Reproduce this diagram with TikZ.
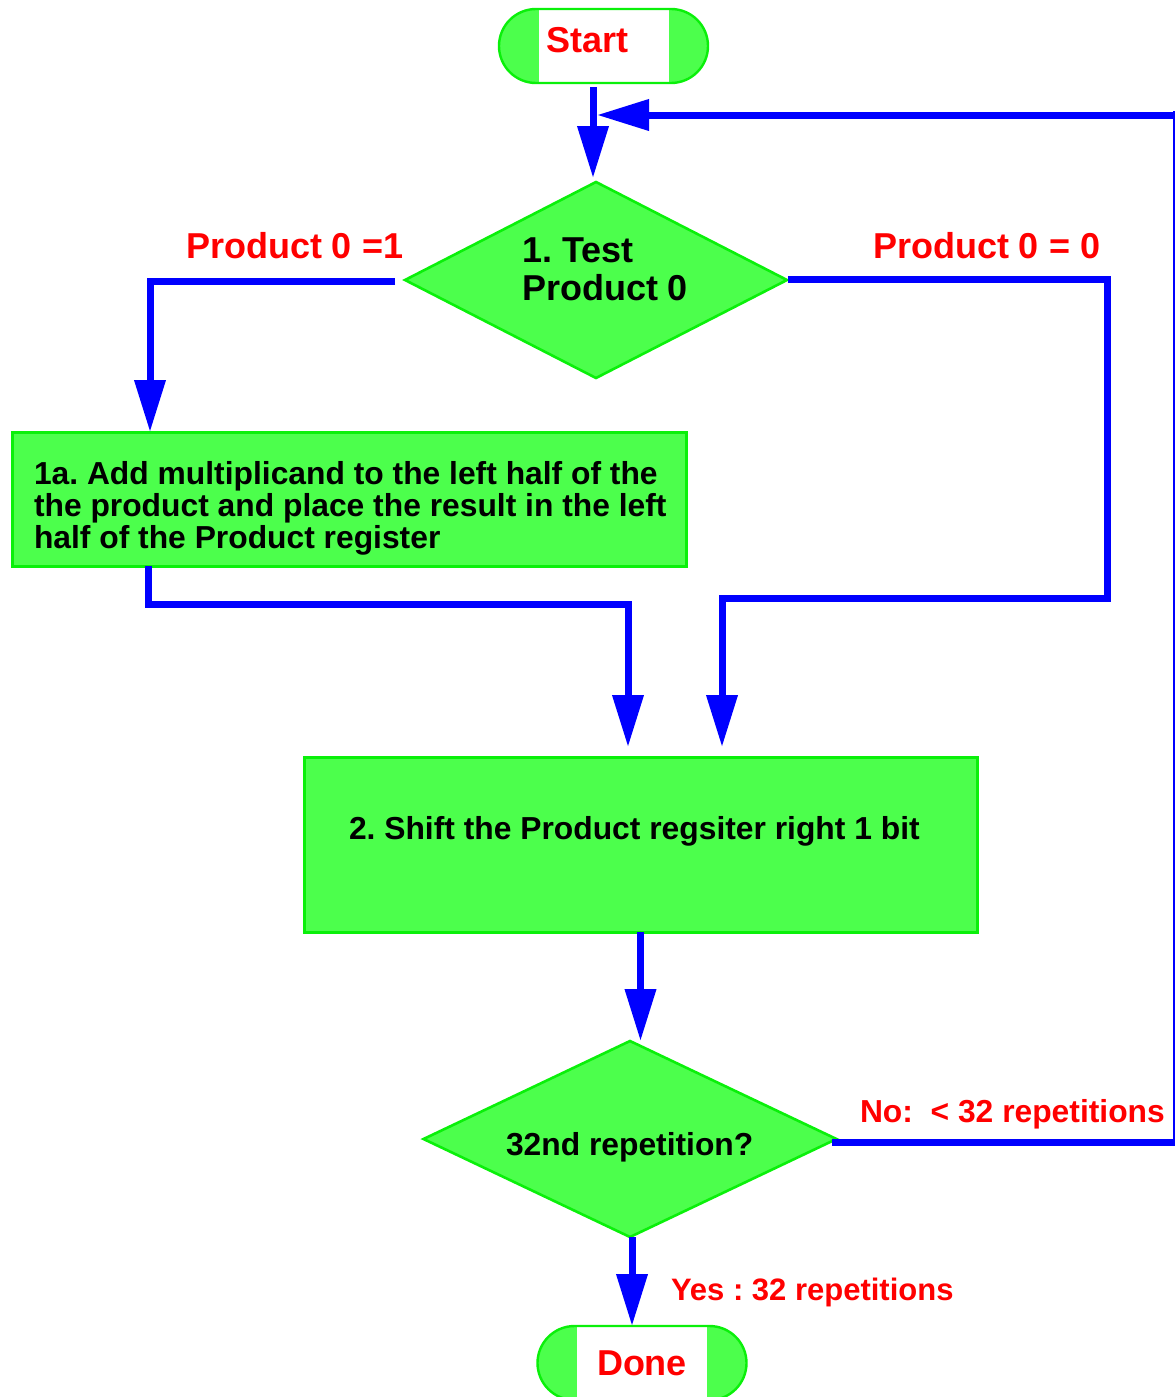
\documentclass[tikz,border=0pt]{standalone}
\usepackage{fontspec}
\setmainfont{Liberation Sans}
\usetikzlibrary{shapes.geometric,arrows.meta,calc}
\definecolor{boxfill}{RGB}{76,255,76}
\definecolor{boxline}{RGB}{10,240,10}
\definecolor{flow}{RGB}{0,0,255}
\definecolor{lab}{RGB}{255,0,0}
\frenchspacing
\begin{document}
\begin{tikzpicture}[x=0.5pt,y=-0.5pt,
  bigfont/.style={font=\fontsize{18}{19}\selectfont\bfseries},
  smallfont/.style={font=\fontsize{15.9}{16}\selectfont\bfseries},
  terminal/.style={draw=boxline, fill=boxfill, line width=1.2pt, rounded corners=18.5pt,
    minimum width=104.5pt, minimum height=37pt, inner sep=0pt, outer sep=0pt,
    path picture={\fill[white, sharp corners] ($(path picture bounding box.south)+(-65,0)$) rectangle ($(path picture bounding box.north)+(65,0)$);}},
  decision/.style={diamond, draw=boxline, fill=boxfill, line width=1.3pt, inner sep=0pt, outer sep=0pt, aspect=2},
  process/.style={rectangle, draw=boxline, fill=boxfill, line width=1.5pt, inner sep=0pt, outer sep=0pt},
  txt/.style={inner sep=0pt, outer sep=0pt, text=black},
  lbl/.style={inner sep=0pt, outer sep=0pt, text=lab},
  flowline/.style={draw=flow, line width=3.5pt, line join=miter},
  arr/.style={flowline, -{Triangle[length=26pt,width=15pt]}}
]
\useasboundingbox (0,0) rectangle (1176,1397);

% nodes
\node[terminal] (start) at (603.5,46) {};
\node[lbl, bigfont, anchor=base west] (starttext) at (546,52) {Start};

\node[decision, minimum width=191pt, minimum height=98pt] (d1) at (596,280) {};
\node[txt, bigfont, anchor=base west] (d1a) at (522,262) {1. Test};
\node[txt, bigfont, anchor=base west] (d1b) at (522,300) {Product 0};

\node[process, minimum width=337pt, minimum height=67pt] (b1) at (349,499) {};
\node[txt, smallfont, align=left, anchor=north west] (b1t) at (34,461)
  {1a. Add multiplicand to the left half of the\\the product and place the result in the left\\half of the Product register};

\node[process, minimum width=336.5pt, minimum height=87.5pt] (b2) at (640.5,844.5) {};
\node[txt, smallfont, anchor=base west] (b2t) at (349,839) {2. Shift the Product regsiter right 1 bit};

\node[decision, minimum width=206.5pt, minimum height=98pt] (d2) at (630,1139) {};
\node[txt, smallfont, anchor=base west] (d2t) at (506,1155) {32nd repetition?};

\node[terminal] (done) at (642,1363) {};
\node[lbl, bigfont, anchor=base west] (donetext) at (597,1375) {Done};

% labels
\node[lbl, bigfont, anchor=base west] (l1) at (186,258) {Product 0 =1};
\node[lbl, bigfont, anchor=base west] (l0) at (873,258) {Product 0 = 0};
\node[lbl, smallfont, anchor=base west] (lno) at (860,1122) {No:\ \ < 32 repetitions};
\node[lbl, font=\fontsize{15.5}{16}\selectfont\bfseries, anchor=base west] (lyes) at (671,1300) {Yes : 32 repetitions};

% coordinates
\coordinate (j) at (593,115);
\coordinate (r1) at (1174,1142);
\coordinate (r2) at (1174,115);
\coordinate (c1) at (150,281);
\coordinate (c2) at (1107,279);
\coordinate (c3) at (1107,598);
\coordinate (c4) at (722,598);
\coordinate (c5) at (148,604);
\coordinate (c6) at (628,604);

% connectors
\draw[arr] ($(start.south -| j)+(0,4)$) -- ($(d1.north -| j)+(0,-4)$);
\draw[flowline] ($(d2.east)+(-5,3)$) -- (r1);
\draw[draw=flow, line width=1pt] ($(r1)+(0,4)$) -- ($(r2)+(0,-4)$);
\draw[arr] (r2) -- ($(j)+(4,0)$);
\draw[arr] ($(d1.west)+(-10,1)$) -- (c1) -- (c1 |- b1.north);
\draw[arr] ($(d1.east)+(1,-1)$) -- (c2) -- (c3) -- (c4) -- ($(c4 |- b2.north)+(0,-10)$);
\draw[arr] (b1.south -| c5) -- (c5) -- (c6) -- ($(c6 |- b2.north)+(0,-10)$);
\draw[arr] (b2.south) -- (b2.south |- d2.north);
\draw[arr] ($(d2.south)+(2,0)$) -- ($(d2.south |- done.north)+(2,0)$);
\end{tikzpicture}
\end{document}
